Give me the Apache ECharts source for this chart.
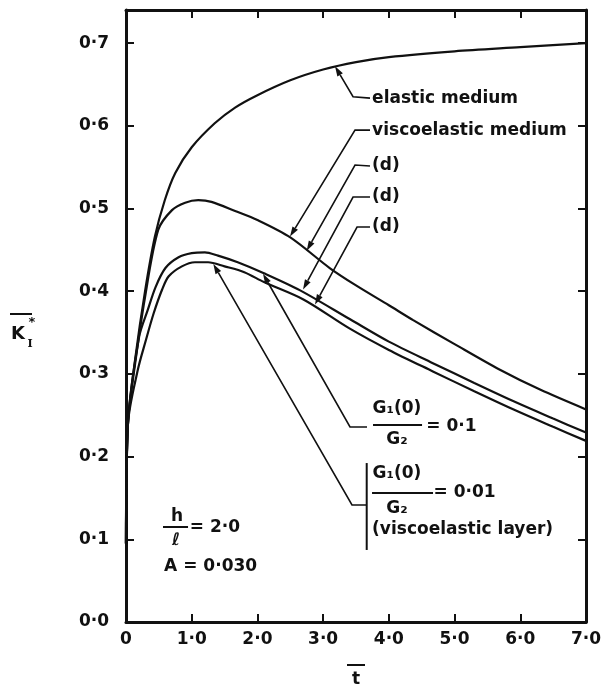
<!DOCTYPE html>
<html><head><meta charset="utf-8">
<script src="https://cdn.jsdelivr.net/npm/echarts@6/dist/echarts.min.js"></script>
<style>html,body{margin:0;padding:0;background:#fff}#c{width:606px;height:691px}</style>
</head><body><div id="c"></div>
<script>
// ---- data ----
const xTickLabels = ['0', '1·0', '2·0', '3·0', '4·0', '5·0', '6·0', '7·0'];
const yTickLabels = ['0·0', '0·1', '0·2', '0·3', '0·4', '0·5', '0·6', '0·7'];

const elasticMedium = [[0,0.095],[0.03,0.24],[0.14,0.318],[0.29,0.40],[0.44,0.466],[0.59,0.51],[0.75,0.543],[1.0,0.574],[1.35,0.603],[1.66,0.622],[2.0,0.637],[2.5,0.655],[3.0,0.668],[3.5,0.677],[4.0,0.683],[5.0,0.690],[6.0,0.695],[7.0,0.700]];
const viscoelasticMedium = [[0,0.095],[0.03,0.24],[0.14,0.313],[0.29,0.393],[0.49,0.474],[0.7,0.498],[0.9,0.507],[1.1,0.51],[1.3,0.508],[1.66,0.497],[2.0,0.486],[2.5,0.465],[3.1,0.428],[3.5,0.407],[4.0,0.383],[4.37,0.365],[5.0,0.336],[5.69,0.305],[6.3,0.281],[7.0,0.257]];
const layerRatio01 = [[0,0.095],[0.03,0.24],[0.2,0.345],[0.33,0.377],[0.45,0.405],[0.6,0.428],[0.8,0.441],[1.0,0.446],[1.2,0.447],[1.4,0.443],[1.7,0.435],[2.09,0.422],[2.65,0.401],[3.41,0.366],[4.0,0.339],[4.67,0.313],[5.3,0.289],[5.95,0.265],[6.5,0.246],[7.0,0.229]];
const layerRatio001 = [[0,0.095],[0.03,0.24],[0.18,0.305],[0.3,0.34],[0.42,0.373],[0.55,0.402],[0.65,0.418],[0.85,0.430],[1.05,0.435],[1.25,0.435],[1.5,0.430],[1.8,0.423],[2.1,0.411],[2.7,0.39],[3.4,0.355],[4.0,0.329],[4.67,0.303],[5.3,0.279],[5.95,0.255],[6.5,0.236],[7.0,0.219]];

// ---- chart ----
const BLACK = '#111';
const FONT = '"DejaVu Sans", sans-serif';
const chart = echarts.init(document.getElementById('c'));

function xLabel(v) { const i = Math.round(v); return Math.abs(v - i) < 1e-6 ? (xTickLabels[i] || '') : ''; }
function yLabel(v) { const i = Math.round(v * 10); return Math.abs(v - i / 10) < 1e-6 ? (yTickLabels[i] || '') : ''; }

const lineStyleAxis = { color: BLACK, width: 3 };
const tickStyle = { show: true, inside: true, length: 8, lineStyle: { color: BLACK, width: 2 } };
const labelStyle = { color: BLACK, fontFamily: FONT, fontWeight: 'bold', fontSize: 17 };

function curve(name, data) {
  return { name, type: 'line', data, showSymbol: false, symbol: 'none', smooth: 0.3,
    lineStyle: { color: BLACK, width: 2.2 }, xAxisIndex: 0, yAxisIndex: 0, z: 3 };
}

chart.setOption({
  animation: false,
  backgroundColor: '#fff',
  grid: { left: 126, top: 10, right: 20, bottom: 69 },
  xAxis: [
    { type: 'value', min: 0, max: 7, interval: 1, position: 'bottom',
      axisLine: { show: true, onZero: false, lineStyle: lineStyleAxis }, axisTick: tickStyle,
      axisLabel: Object.assign({ formatter: xLabel, margin: 9 }, labelStyle), splitLine: { show: false } },
    { type: 'value', min: 0, max: 7, interval: 1, position: 'top',
      axisLine: { show: true, onZero: false, lineStyle: lineStyleAxis }, axisTick: tickStyle,
      axisLabel: { show: false }, splitLine: { show: false } }
  ],
  yAxis: [
    { type: 'value', min: 0, max: 0.74, interval: 0.1, position: 'left',
      axisLine: { show: true, onZero: false, lineStyle: lineStyleAxis }, axisTick: tickStyle,
      axisLabel: Object.assign({ formatter: yLabel, margin: 17, showMaxLabel: false }, labelStyle), splitLine: { show: false } },
    { type: 'value', min: 0, max: 0.74, interval: 0.1, position: 'right',
      axisLine: { show: true, onZero: false, lineStyle: lineStyleAxis }, axisTick: tickStyle,
      axisLabel: { show: false }, splitLine: { show: false } }
  ],
  series: [
    curve('elastic medium', elasticMedium),
    curve('viscoelastic medium', viscoelasticMedium),
    curve('G1(0)/G2 = 0.1', layerRatio01),
    curve('G1(0)/G2 = 0.01', layerRatio001)
  ]
});

// ---- annotations (positions in data coordinates) ----
const P = p => chart.convertToPixel({ gridIndex: 0 }, p);
const TFONT = 'bold 17px ' + FONT;
const g = [];
function arrow(pts) {
  const px = pts.map(P);
  const n = px.length;
  const [x1, y1] = px[n - 2], [x2, y2] = px[n - 1];
  const dx = x2 - x1, dy = y2 - y1, L = Math.hypot(dx, dy), ux = dx / L, uy = dy / L;
  const len = 10, w = 3.2;
  const bx = x2 - ux * len, by = y2 - uy * len;
  g.push({ type: 'polyline', z: 10, shape: { points: px.slice(0, n - 1).concat([[bx, by]]) }, style: { stroke: BLACK, lineWidth: 1.6, fill: null } });
  g.push({ type: 'polygon', z: 10, shape: { points: [[x2, y2], [bx - uy * w, by + ux * w], [bx + uy * w, by - ux * w]] }, style: { fill: BLACK } });
}
function txtD(text, d, align, font) {
  const [x, y] = P(d);
  g.push({ type: 'text', z: 10, x, y, style: { text, font: font || TFONT, fill: BLACK, align: align || 'left', verticalAlign: 'middle' } });
}
function lineD(a, b, w) {
  const [x1, y1] = P(a), [x2, y2] = P(b);
  g.push({ type: 'line', z: 10, shape: { x1, y1, x2, y2 }, style: { stroke: BLACK, lineWidth: w || 2 } });
}

arrow([[3.713, 0.6335], [3.455, 0.6351], [3.181, 0.672]]);
txtD('elastic medium', [3.745, 0.6335]);
arrow([[3.713, 0.5948], [3.485, 0.5948], [2.496, 0.466]]);
txtD('viscoelastic medium', [3.745, 0.5948]);
arrow([[3.713, 0.5513], [3.485, 0.5526], [2.750, 0.449]]);
txtD('(d)', [3.745, 0.5513]);
arrow([[3.713, 0.5138], [3.455, 0.5138], [2.694, 0.402]]);
txtD('(d)', [3.745, 0.5138]);
arrow([[3.713, 0.4776], [3.516, 0.4776], [2.876, 0.384]]);
txtD('(d)', [3.745, 0.4776]);

// G1(0)/G2 = 0.1
arrow([[3.668, 0.2358], [3.409, 0.2358], [2.085, 0.421]]);
txtD('G₁(0)', [4.124, 0.2575], 'center');
lineD([3.759, 0.2382], [4.505, 0.2382], 2);
txtD('G₂', [4.124, 0.2203], 'center');
txtD('= 0·1', [4.57, 0.2358]);

// G1(0)/G2 = 0.01
arrow([[3.668, 0.1415], [3.439, 0.1415], [1.329, 0.433]]);
lineD([3.663, 0.1922], [3.663, 0.0871], 2);
txtD('G₁(0)', [4.124, 0.1790], 'center');
lineD([3.744, 0.1560], [4.672, 0.1560], 2);
txtD('G₂', [4.124, 0.1366], 'center');
txtD('= 0·01', [4.68, 0.1560]);
txtD('(viscoelastic layer)', [3.745, 0.1112]);

// h/l = 2.0 , A = 0.030
txtD('h', [0.777, 0.1269], 'center');
lineD([0.563, 0.1149], [0.944, 0.1149], 2);
txtD('ℓ', [0.762, 0.0990], 'center');
txtD('= 2·0', [0.97, 0.1137]);
txtD('A = 0·030', [0.58, 0.0665]);

// axis titles (K̄_I* and t̄)
g.push({ type: 'line', shape: { x1: 10, y1: 314, x2: 32, y2: 314 }, style: { stroke: BLACK, lineWidth: 2 } });
g.push({ type: 'text', x: 18, y: 334, style: { text: 'K', font: 'bold 18px ' + FONT, fill: BLACK, align: 'center', verticalAlign: 'middle' } });
g.push({ type: 'text', x: 30, y: 344, style: { text: 'I', font: 'bold 11px "DejaVu Serif", serif', fill: BLACK, align: 'center', verticalAlign: 'middle' } });
g.push({ type: 'text', x: 32, y: 323, style: { text: '*', font: 'bold 13px ' + FONT, fill: BLACK, align: 'center', verticalAlign: 'middle' } });
g.push({ type: 'line', shape: { x1: 347, y1: 665, x2: 365, y2: 665 }, style: { stroke: BLACK, lineWidth: 2 } });
g.push({ type: 'text', x: 356, y: 680, style: { text: 't', font: 'bold 17px ' + FONT, fill: BLACK, align: 'center', verticalAlign: 'middle' } });

chart.setOption({ graphic: g });
</script>
</body></html>
